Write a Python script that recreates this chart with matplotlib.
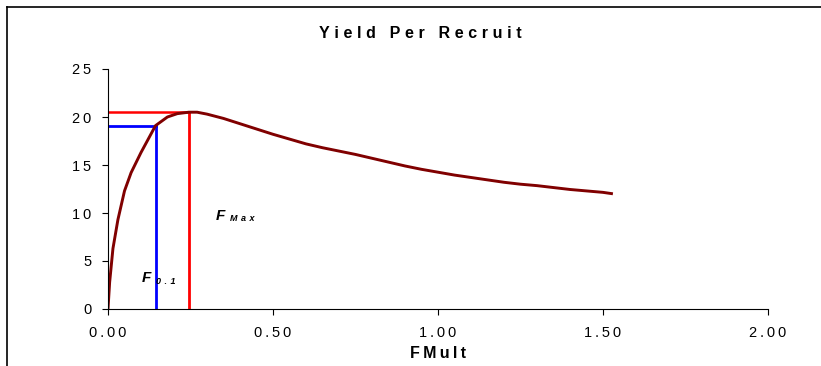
import matplotlib
matplotlib.use("Agg")
from matplotlib import pyplot as plt
from matplotlib.lines import Line2D

plt.rcParams['font.family'] = ['Liberation Sans', 'DejaVu Sans']

# Yield per recruit against the F multiplier
f_mult = [0, 0.005, 0.015, 0.03, 0.05, 0.07, 0.10, 0.144, 0.18, 0.21, 0.245,
          0.27, 0.30, 0.35, 0.40, 0.45, 0.50, 0.55, 0.60, 0.65, 0.70, 0.75,
          0.80, 0.85, 0.90, 0.95, 1.00, 1.05, 1.10, 1.15, 1.20, 1.25, 1.30,
          1.35, 1.40, 1.45, 1.50, 1.53]
ypr = [0, 2.8, 6.3, 9.3, 12.3, 14.2, 16.3, 19.1, 20.0, 20.35, 20.5,
       20.5, 20.3, 19.85, 19.3, 18.75, 18.2, 17.7, 17.2, 16.8, 16.45, 16.1,
       15.7, 15.3, 14.9, 14.55, 14.25, 13.95, 13.7, 13.45, 13.2, 13.0, 12.85,
       12.65, 12.45, 12.3, 12.15, 12.0]

# reference points
f01 = 0.144
ypr_f01 = 19.1
fmax = 0.245
ypr_fmax = 20.5

xticks = [0.0, 0.5, 1.0, 1.5, 2.0]
xtick_labels = ["0.00", "0.50", "1.00", "1.50", "2.00"]
yticks = [0, 5, 10, 15, 20, 25]
ytick_labels = ["0", "5", "10", "15", "20", "25"]


def spaced(s, gap='\u2009'):
    # spread the letters out a little
    return gap.join(s)


fig = plt.figure(figsize=(8.21, 3.66), dpi=100)
ax = fig.add_axes([108/821, 1 - 309/366, 660/821, 240/366])

# F0.1 and Fmax guide lines
ax.plot([0, f01], [ypr_f01, ypr_f01], color='blue', lw=2.0)
ax.plot([f01, f01], [0, ypr_f01], color='blue', lw=2.0)
ax.plot([0, fmax], [ypr_fmax, ypr_fmax], color='red', lw=1.8)
ax.plot([fmax, fmax], [0, ypr_fmax], color='red', lw=2.0)

ax.plot(f_mult, ypr, color='#800000', lw=2.1, solid_capstyle='butt')

ax.set_xlim(0, 2.0)
ax.set_ylim(0, 25)
ax.set_xticks(xticks)
ax.set_xticklabels([spaced(t) for t in xtick_labels])
ax.set_yticks(yticks)
ax.set_yticklabels([spaced(t) for t in ytick_labels])
ax.tick_params(direction='out', length=4, width=0.8, labelsize=10.5, pad=8)
ax.spines['top'].set_visible(False)
ax.spines['right'].set_visible(False)

# labels on the guide lines
ax.text(0.102, 3.2, "F", fontsize=11, fontweight='bold', fontstyle='italic', va='center')
ax.text(0.146, 2.9, spaced("0.1", '\u2009\u2009'), fontsize=6.5, fontweight='bold',
        fontstyle='italic', va='center')
ax.text(0.327, 9.7, "F", fontsize=11, fontweight='bold', fontstyle='italic', va='center')
ax.text(0.37, 9.4, spaced("Max", '\u2009\u2009'), fontsize=6.5, fontweight='bold',
        fontstyle='italic', va='center')

fig.text(0.512, 1 - 33/366, spaced("Yield Per Recruit", '\u2009\u200a'), ha='center',
         va='center', fontsize=11.5, fontweight='bold')
fig.text(438/821, 1 - 354/366, spaced("FMult"), ha='center', va='center',
         fontsize=11.5, fontweight='bold')

# frame around the chart area
fig.add_artist(Line2D([7/821, 7/821], [0, 1 - 7/366], color='black', lw=1.2,
                      transform=fig.transFigure))
fig.add_artist(Line2D([7/821, 1], [1 - 7/366, 1 - 7/366], color='black', lw=1.2,
                      transform=fig.transFigure))

fig.savefig("out.png", dpi=100)
